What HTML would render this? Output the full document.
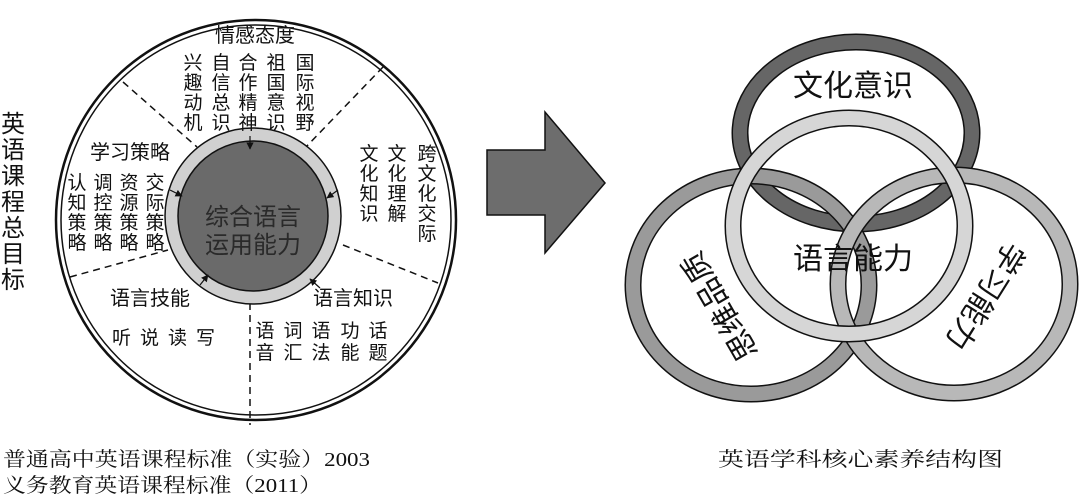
<!DOCTYPE html>
<html><head><meta charset="utf-8"><style>
html,body{margin:0;padding:0;background:#fff;width:1080px;height:498px;overflow:hidden}
svg{display:block}
text{font-family:"Liberation Sans","Noto Sans CJK SC",sans-serif;fill:#111}
.cap{font-family:"Liberation Serif","Noto Serif CJK SC",serif}
</style></head><body>
<svg width="1080" height="498" viewBox="0 0 1080 498" xmlns="http://www.w3.org/2000/svg">
<defs>
<marker id="ah" viewBox="0 0 10 10" refX="9" refY="5" markerWidth="6" markerHeight="6" orient="auto"><path d="M0,0L10,5L0,10z" fill="#111"/></marker>
</defs>
<circle cx="256" cy="220" r="200" fill="none" stroke="#111" stroke-width="2.5"/>
<circle cx="256" cy="220" r="195" fill="none" stroke="#111" stroke-width="1.5"/>
<g stroke="#111" stroke-width="1.5" stroke-dasharray="7,5">
<line x1="123" y1="82" x2="197" y2="147"/>
<line x1="383" y1="67" x2="305" y2="148"/>
<line x1="70" y1="277" x2="168" y2="250"/>
<line x1="343" y1="245" x2="438" y2="283"/>
<line x1="250" y1="303" x2="250" y2="425"/>
</g>
<circle cx="253" cy="216" r="88" fill="#d0d0d0" stroke="#111" stroke-width="1.5"/>
<circle cx="253" cy="216" r="75" fill="#6a6a6a" stroke="#111" stroke-width="1.5"/>
<g stroke="#111" stroke-width="1.2" marker-end="url(#ah)">
<line x1="250" y1="136" x2="250" y2="149"/>
<line x1="170" y1="190" x2="182" y2="196"/>
<line x1="338" y1="190" x2="327" y2="198"/>
<line x1="200" y1="285" x2="208" y2="275"/>
<line x1="320" y1="288" x2="310" y2="279"/>
</g>
<text x="253" y="225" font-size="24" text-anchor="middle" style="fill:#2a2a2a">综合语言</text>
<text x="253" y="253" font-size="24" text-anchor="middle" style="fill:#2a2a2a">运用能力</text>
<text x="255" y="42" font-size="20" text-anchor="middle">情感态度</text>
<g font-size="19" text-anchor="middle">
<text x="193" y="69">兴</text><text x="193" y="89">趣</text><text x="193" y="109">动</text><text x="193" y="129">机</text>
<text x="221" y="69">自</text><text x="221" y="89">信</text><text x="221" y="109">总</text><text x="221" y="129">识</text>
<text x="248" y="69">合</text><text x="248" y="89">作</text><text x="248" y="109">精</text><text x="248" y="129">神</text>
<text x="276" y="69">祖</text><text x="276" y="89">国</text><text x="276" y="109">意</text><text x="276" y="129">识</text>
<text x="305" y="69">国</text><text x="305" y="89">际</text><text x="305" y="109">视</text><text x="305" y="129">野</text>
</g>
<text x="130" y="159" font-size="20" text-anchor="middle">学习策略</text>
<g font-size="19" text-anchor="middle">
<text x="77" y="189">认</text><text x="77" y="209">知</text><text x="77" y="229">策</text><text x="77" y="249">略</text>
<text x="103" y="189">调</text><text x="103" y="209">控</text><text x="103" y="229">策</text><text x="103" y="249">略</text>
<text x="129" y="189">资</text><text x="129" y="209">源</text><text x="129" y="229">策</text><text x="129" y="249">略</text>
<text x="155" y="189">交</text><text x="155" y="209">际</text><text x="155" y="229">策</text><text x="155" y="249">略</text>
<text x="369" y="160">文</text><text x="369" y="180">化</text><text x="369" y="200">知</text><text x="369" y="220">识</text>
<text x="397" y="160">文</text><text x="397" y="180">化</text><text x="397" y="200">理</text><text x="397" y="220">解</text>
<text x="427" y="160">跨</text><text x="427" y="180">文</text><text x="427" y="200">化</text><text x="427" y="220">交</text><text x="427" y="240">际</text>
</g>
<text x="150" y="305" font-size="20" text-anchor="middle">语言技能</text>
<text x="168" y="344" font-size="19" text-anchor="middle" letter-spacing="9">听说读写</text>
<text x="353" y="305" font-size="20" text-anchor="middle">语言知识</text>
<g font-size="19" text-anchor="middle">
<text x="265" y="337">语</text><text x="265" y="359">音</text>
<text x="293" y="337">词</text><text x="293" y="359">汇</text>
<text x="321" y="337">语</text><text x="321" y="359">法</text>
<text x="350" y="337">功</text><text x="350" y="359">能</text>
<text x="378" y="337">话</text><text x="378" y="359">题</text>
</g>
<g font-size="24" text-anchor="middle">
<text x="13" y="132">英</text><text x="13" y="158">语</text><text x="13" y="184">课</text><text x="13" y="210">程</text><text x="13" y="236">总</text><text x="13" y="262">目</text><text x="13" y="288">标</text>
</g>
<polygon points="487,150 545,150 545,112 605,183 545,253 545,215 487,215" fill="#6d6d6d" stroke="#111" stroke-width="1.5"/>
<g fill="none">
<ellipse cx="856" cy="133" rx="116" ry="91" stroke="#111" stroke-width="17"/>
<ellipse cx="856" cy="133" rx="116" ry="91" stroke="#666" stroke-width="14"/>
<ellipse cx="751" cy="285" rx="118" ry="109" stroke="#111" stroke-width="17"/>
<ellipse cx="751" cy="285" rx="118" ry="109" stroke="#9a9a9a" stroke-width="14"/>
<ellipse cx="954" cy="284" rx="116" ry="109" stroke="#111" stroke-width="17"/>
<ellipse cx="954" cy="284" rx="116" ry="109" stroke="#b8b8b8" stroke-width="14"/>
<ellipse cx="849" cy="226" rx="116" ry="108" stroke="#111" stroke-width="17"/>
<ellipse cx="849" cy="226" rx="116" ry="108" stroke="#d6d6d6" stroke-width="14"/>
</g>
<g font-size="30" text-anchor="middle">
<text x="853" y="96">文化意识</text>
<text x="853" y="269">语言能力</text>
<text transform="translate(720,306) rotate(-120)" y="10">思维品质</text>
<text transform="translate(985,296) rotate(122)" y="10">学习能力</text>
</g>
<text class="cap" x="3" y="466" font-size="20" textLength="367" lengthAdjust="spacingAndGlyphs">普通高中英语课程标准（实验）2003</text>
<text class="cap" x="3" y="492" font-size="20" textLength="319" lengthAdjust="spacingAndGlyphs">义务教育英语课程标准（2011）</text>
<text class="cap" x="718" y="466" font-size="20" textLength="285" lengthAdjust="spacingAndGlyphs">英语学科核心素养结构图</text>
</svg>
</body></html>
